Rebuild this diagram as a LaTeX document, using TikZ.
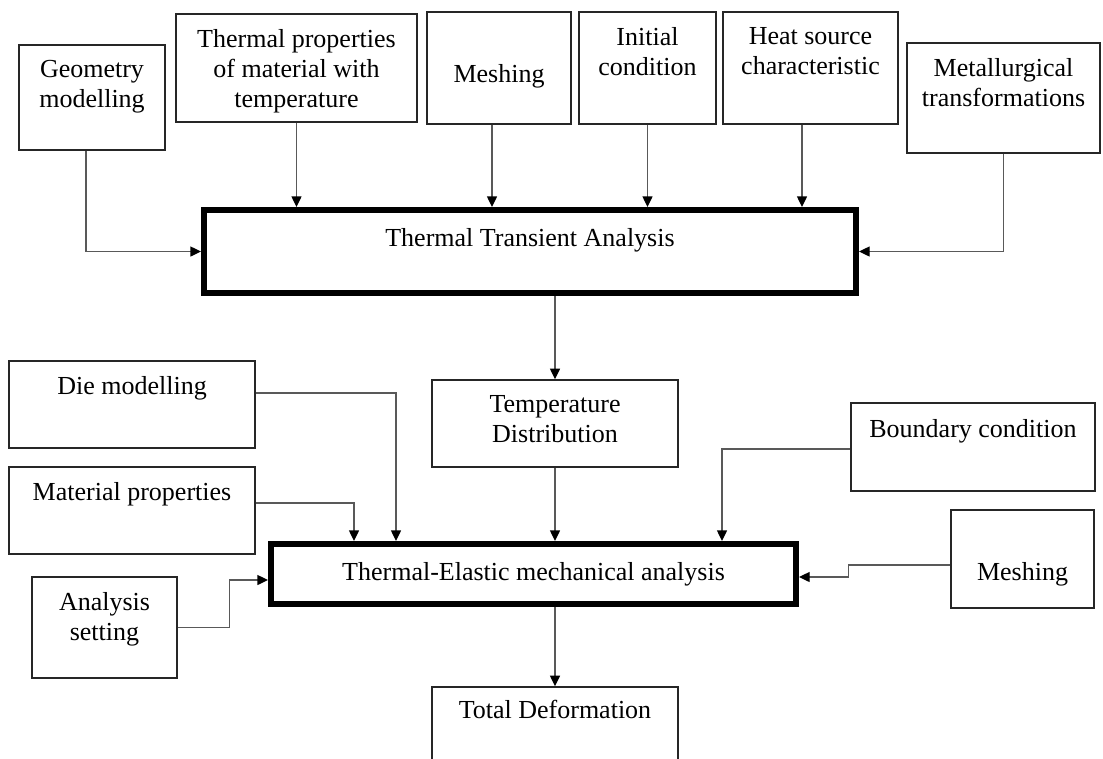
\documentclass[tikz,border=0pt]{standalone}
\usepackage{fontspec}
\setmainfont{Liberation Serif}
\usetikzlibrary{arrows.meta,calc}

\begin{document}
\begin{tikzpicture}[x=0.75pt,y=-0.75pt,>={Triangle[length=8pt,width=7.5pt,color=black]},
  font=\fontsize{19.5}{22.5}\selectfont,
  sz/.style 2 args={minimum width=#1*0.75pt,minimum height=#2*0.75pt},
  blk/.style={draw=black!85,line width=1.1pt,inner sep=0pt},
  stage/.style={draw=black,line width=4.5pt,inner sep=0pt},
  lbl/.style={align=center,inner sep=0pt,anchor=north,yshift=#1},
  lbl/.default=-12pt,
  feed/.style={->,draw=black!65,line width=1pt}]
  \useasboundingbox (0,0) rectangle (1103,758);
  \clip (0,0) rectangle (1103,758);
  % inputs of the thermal step
  \node[blk,sz={146}{105},label={[lbl]north:Geometry\\modelling}] (geo) at (92,97.5) {};
  \node[blk,sz={241}{108},label={[lbl]north:Thermal properties\\of material with\\temperature}] (thprop) at (296.5,68) {};
  \node[blk,sz={144}{112},label={[lbl=-40pt]north:Meshing}] (meshA) at (499,68) {};
  \node[blk,sz={137}{112},label={[lbl]north:Initial\\condition}] (init) at (647.5,68) {};
  \node[blk,sz={175}{112},label={[lbl]north:Heat source\\characteristic}] (heat) at (810.5,68) {};
  \node[blk,sz={193}{110},label={[lbl]north:Metallurgical\\transformations}] (metal) at (1003.5,98) {};
  \node[stage,sz={652}{83},label={[lbl=-16pt]north:Thermal Transient Analysis}] (tta) at (530,251.5) {};
  % inputs of the mechanical step
  \node[blk,sz={246}{87},label={[lbl]north:Die modelling}] (die) at (132,404.5) {};
  \node[blk,sz={246}{87},label={[lbl]north:Material properties}] (mat) at (132,510.5) {};
  \node[blk,sz={145}{101},label={[lbl]north:Analysis\\setting}] (anset) at (104.5,627.5) {};
  \node[blk,sz={246}{87},label={[lbl]north:Temperature\\Distribution}] (tdist) at (555,423.5) {};
  \node[blk,sz={244}{88},label={[lbl=-13pt]north:Boundary condition}] (bound) at (973,447) {};
  \node[blk,sz={143}{98},label={[lbl=-40pt]north:Meshing}] (meshB) at (1022.5,559) {};
  \node[stage,sz={525}{60}] (tema) at (533.5,574) {Thermal-Elastic mechanical analysis};
  \node[blk,sz={246}{87},label={[lbl=-10.5pt]north:Total Deformation}] (tdef) at (555,730.5) {};
  % connectors, top
  \draw[feed] ($(geo.south)+(-6,0)$) |- (tta.west);
  \draw[feed] (thprop.south) -- (thprop.south |- tta.north);
  \draw[feed] ($(meshA.south)+(-7,0)$) -- ($(meshA.south |- tta.north)+(-7,0)$);
  \draw[feed] (init.south) -- (init.south |- tta.north);
  \draw[feed] ($(heat.south)+(-8.5,0)$) -- ($(heat.south |- tta.north)+(-8.5,0)$);
  \draw[feed] (metal.south) |- (tta.east);
  \draw[feed] (tdist.north |- tta.south) -- (tdist.north);
  % connectors, bottom
  \draw[feed] ($(die.east)+(0,-11.5)$) -| ($(tema.north)+(-137.5,0)$);
  \draw[feed] ($(mat.east)+(0,-7.5)$) -| ($(tema.north)+(-179.5,0)$);
  \draw[feed] (anset.east) -- ++(52,0) |- ($(tema.west)+(0,6)$);
  \draw[feed] (tdist.south) -- (tdist.south |- tema.north);
  \draw[feed] ($(bound.west)+(0,2)$) -| ($(tema.north)+(188.5,0)$);
  \draw[feed] ($(meshB.west)+(0,6)$) -- ++(-102,0) |- ($(tema.east)+(0,3)$);
  \draw[feed] (tdef.north |- tema.south) -- (tdef.north);
\end{tikzpicture}
\end{document}
